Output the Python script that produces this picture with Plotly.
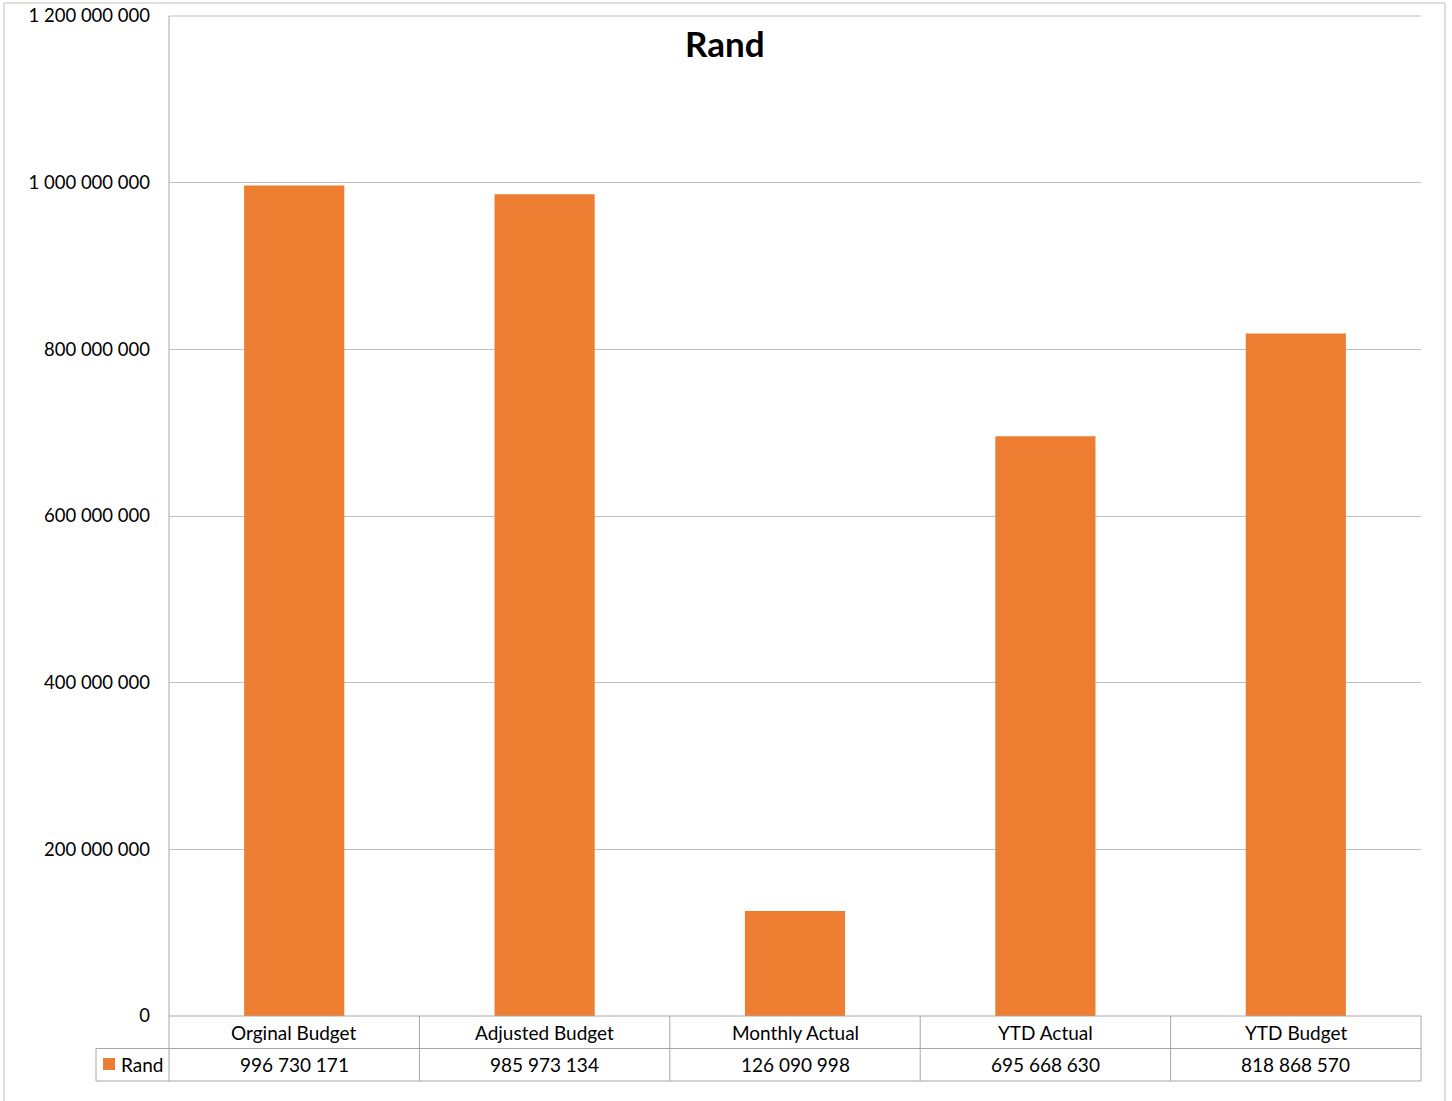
import plotly.graph_objects as go

categories = ["Orginal Budget", "Adjusted Budget", "Monthly Actual", "YTD Actual", "YTD Budget"]
values = [996730171, 985973134, 126090998, 695668630, 818868570]
series_name = "Rand"
tick_vals = [0, 200000000, 400000000, 600000000, 800000000, 1000000000, 1200000000]

def fmt(v):
    return f"{v:,}".replace(",", " ")

W, H = 1452, 1101
L, R, T, B = 169, 1421, 16, 1016
FONT = "Lato"
ORANGE = "#ED7D31"
LINE = "#A6A6A6"

def px(x):
    return (x - L) / (R - L)

def py(y):
    return (B - y) / (B - T)

fig = go.Figure()
fig.add_trace(go.Bar(x=categories, y=values, name=series_name,
                     marker=dict(color=ORANGE, line=dict(width=0))))

shapes = []
def line(x0, y0, x1, y1, color=LINE):
    shapes.append(dict(type="line", xref="paper", yref="paper",
                       x0=px(x0), y0=py(y0), x1=px(x1), y1=py(y1),
                       line=dict(color=color, width=1), layer="above"))

row1, row2, row3 = 1016, 1048.5, 1081
tl = 96
line(L, T, R, T, color="#BFBFBF")
line(L, row1, R, row1)
line(tl, row2, R, row2)
line(tl, row3, R, row3)
line(tl, row2, tl, row3)
line(L, T, L, row3)
n = len(categories)
cw = (R - L) / n
for k in range(1, n + 1):
    line(L + cw * k, row1, L + cw * k, row3)

shapes.append(dict(type="rect", xref="paper", yref="paper",
                   x0=px(4), y0=py(3), x1=px(1445), y1=py(1120),
                   line=dict(color="#BFBFBF", width=1), layer="below"))
shapes.append(dict(type="rect", xref="paper", yref="paper",
                   x0=px(103), y0=py(1058), x1=px(115), y1=py(1070),
                   line=dict(width=0), fillcolor=ORANGE))

annotations = []
for i, (c, v) in enumerate(zip(categories, values)):
    cx = L + cw * (i + 0.5)
    annotations.append(dict(x=px(cx), y=py((row1 + row2) / 2), xref="paper", yref="paper",
                            text=c, showarrow=False, xanchor="center", yanchor="middle",
                            font=dict(family=FONT, size=19, color="#000000")))
    annotations.append(dict(x=px(cx), y=py((row2 + row3) / 2), xref="paper", yref="paper",
                            text=fmt(v), showarrow=False, xanchor="center", yanchor="middle",
                            font=dict(family=FONT, size=19, color="#000000")))
annotations.append(dict(x=px(119), y=py((row2 + row3) / 2), xref="paper", yref="paper",
                        text=series_name, showarrow=False, xanchor="left", yanchor="middle",
                        font=dict(family=FONT, size=19, color="#000000")))
annotations.append(dict(x=px(725), y=py(43), xref="paper", yref="paper",
                        text="<b>Rand</b>", showarrow=False, xanchor="center", yanchor="middle",
                        font=dict(family=FONT, size=35, color="#000000")))

fig.update_layout(
    width=W, height=H,
    margin=dict(l=L, r=W - R, t=T, b=H - B, pad=0, autoexpand=False),
    paper_bgcolor="white", plot_bgcolor="white",
    showlegend=False, bargap=0.6,
    shapes=shapes, annotations=annotations,
    font=dict(family=FONT, size=19, color="#000000"),
    xaxis=dict(showticklabels=False, showgrid=False, zeroline=False, showline=False,
               ticks="", automargin=False),
    yaxis=dict(range=[0, 1200000000], tickvals=tick_vals,
               ticktext=[fmt(v) for v in tick_vals], automargin=False,
               showgrid=True, gridcolor="#BFBFBF", gridwidth=1,
               zeroline=False, showline=False, ticks="", ticklabelstandoff=18,
               tickfont=dict(family=FONT, size=18.5, color="#000000")),
)

fig.write_html("out.html")
